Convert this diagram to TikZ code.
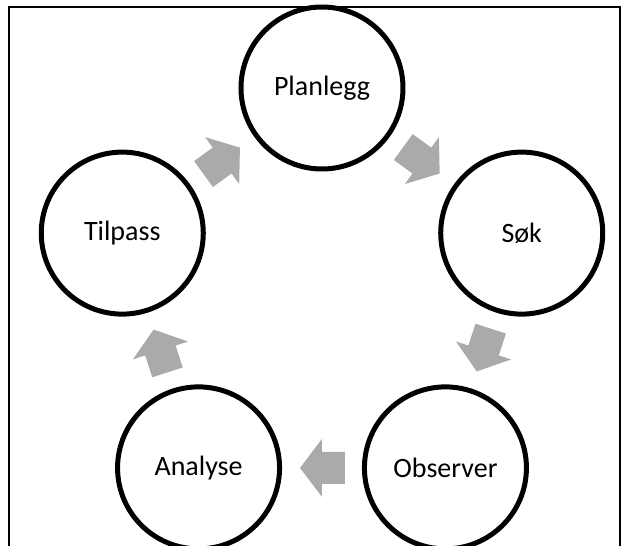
\documentclass[tikz,border=0pt]{standalone}
\usepackage{fontspec}
\setmainfont{Carlito}
\definecolor{arrowgray}{RGB}{170,170,170}
\tikzset{
  stage/.style={circle, draw, line width=5pt, fill=white, inner sep=0pt,
    minimum size=162pt, font=\fontsize{28}{34}\selectfont},
  pics/blockarrow/.style={code={
    \fill[arrowgray] (-23,-16) -- (0,-16) -- (0,-29) -- (22,0) -- (0,29)
      -- (0,16) -- (-23,16) -- cycle;
  }}
}
\begin{document}
\begin{tikzpicture}[x=1pt,y=1pt]
  \useasboundingbox (-322,-248) rectangle (308,298);
  \clip (-322,-248) rectangle (308,298);
  \draw[line width=1.5pt] (-313,-270) rectangle (298,291);
  \draw
    (90:210) node[stage] (planlegg){Planlegg}
    (18:210) node[stage] (sok){Søk}
    (-54:210) node[stage] (observer){Observer}
    (-126:210) node[stage] (analyse){Analyse}
    (162:210) node[stage] (tilpass){Tilpass};
  \begin{scope}[allow upside down]
    \path (planlegg) -- pic[midway, sloped]{blockarrow} (sok);
    \path (sok) -- pic[midway, sloped]{blockarrow} (observer);
    \path (observer) -- pic[midway, sloped]{blockarrow} (analyse);
    \path (analyse) -- pic[midway, sloped]{blockarrow} (tilpass);
    \path (tilpass) -- pic[midway, sloped]{blockarrow} (planlegg);
  \end{scope}
\end{tikzpicture}
\end{document}
